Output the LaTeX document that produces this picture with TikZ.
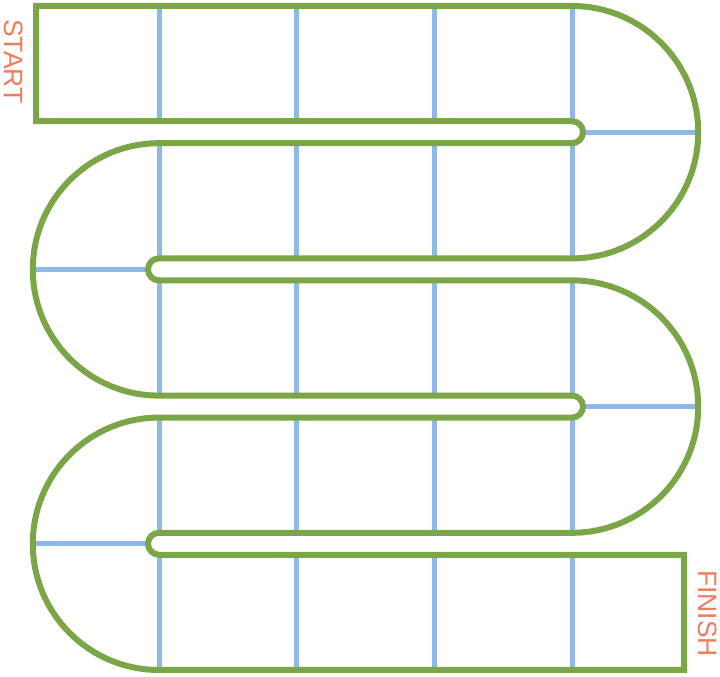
\documentclass[tikz,border=0pt]{standalone}
\usepackage{fontspec}
\setmainfont{Liberation Sans}
\usepackage{tikz}
\definecolor{boardgreen}{HTML}{7BA647}
\definecolor{cellblue}{HTML}{8DB9E4}
\definecolor{labelred}{HTML}{F07B5D}

\begin{document}
\begin{tikzpicture}[x=1pt,y=1pt,
    board/.style={draw=boardgreen,line width=6pt},
    cellline/.style={draw=cellblue,line width=5pt},
    label/.style={labelred,rotate=-90,font=\fontsize{26.5}{30}\selectfont,inner sep=0pt}]
        \useasboundingbox (0,0) rectangle (720,677);
        % vakjes
        \foreach \top/\bot in {671/555.8,533.8/418.6,396.6/281.4,259.4/144.2,122.2/7}
          \foreach \x in {159,296,434,572}
            \draw[cellline] (\x,\top) -- (\x,\bot);
        \draw[cellline] (583,544.8) -- (698.2,544.8);
        \draw[cellline] (32.8,407.6) -- (148,407.6);
        \draw[cellline] (583,270.4) -- (698.2,270.4);
        \draw[cellline] (32.8,133.2) -- (148,133.2);
        % slingerpad
        \draw[board] (36,671) -- (572,671) arc[start angle=90,end angle=-90,radius=126.2]
          -- (159,418.6) arc[start angle=90,end angle=270,radius=11]
          -- (572,396.6) arc[start angle=90,end angle=-90,radius=126.2]
          -- (159,144.2) arc[start angle=90,end angle=270,radius=11]
          -- (684,122.2) -- (684,7) -- (159,7) arc[start angle=-90,end angle=-270,radius=126.2]
          -- (572,259.4) arc[start angle=-90,end angle=90,radius=11]
          -- (159,281.4) arc[start angle=-90,end angle=-270,radius=126.2]
          -- (572,533.8) arc[start angle=-90,end angle=90,radius=11]
          -- (36,555.8) -- cycle;
        % labels
        \node[label] (start) at (13.5,615.5) {START};
        \node[label] (finish) at (707.5,63.5) {FINISH};
      \end{tikzpicture}
\end{document}
